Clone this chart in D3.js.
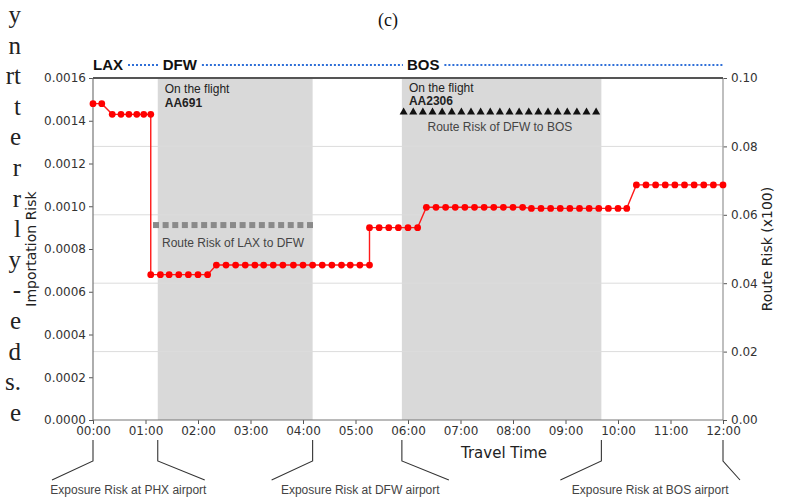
<!DOCTYPE html>
<html>
<head>
<meta charset="utf-8">
<script src="https://cdn.jsdelivr.net/npm/d3@7"></script>
<style>
  body { margin: 0; background: #fff; }
  svg { display: block; }
</style>
</head>
<body>
<svg id="chart" width="790" height="499"></svg>
<script>
// importation risk (left axis), time in minutes after departure
const riskTimes = [
  0, 10, 22, 32, 41, 50, 58, 66,
  66, 77, 87, 98, 109, 120, 131,
  141, 152, 163, 174, 185, 195, 206, 217, 229, 240, 251, 262, 273, 284, 294, 305, 316,
  316, 327, 338, 349, 360, 371,
  381, 392, 403, 414, 425, 436, 447, 458, 469, 480, 491, 501, 512, 523, 534, 545, 556, 567, 578, 589, 600, 610,
  621, 632, 643, 654, 665, 676, 687, 698, 709, 720
];
const riskValues = [
  0.00148, 0.00148, 0.00143, 0.00143, 0.00143, 0.00143, 0.00143, 0.00143,
  0.00068, 0.00068, 0.00068, 0.00068, 0.00068, 0.00068, 0.00068,
  0.000725, 0.000725, 0.000725, 0.000725, 0.000725, 0.000725, 0.000725, 0.000725, 0.000725,
  0.000725, 0.000725, 0.000725, 0.000725, 0.000725, 0.000725, 0.000725, 0.000725,
  0.0009, 0.0009, 0.0009, 0.0009, 0.0009, 0.0009,
  0.000995, 0.000995, 0.000995, 0.000995, 0.000995, 0.000995, 0.000995, 0.000995, 0.000995, 0.000995, 0.000995,
  0.00099, 0.00099, 0.00099, 0.00099, 0.00099, 0.00099, 0.00099, 0.00099, 0.00099, 0.00099, 0.00099,
  0.0011, 0.0011, 0.0011, 0.0011, 0.0011, 0.0011, 0.0011, 0.0011, 0.0011, 0.0011
];

// route risk (right axis, x100)
const laxDfwTimes = [72, 83, 94, 105, 116, 127, 138, 149, 160, 171, 182, 193, 204, 215, 226, 237, 248];
const laxDfwValues = [0.057, 0.057, 0.057, 0.057, 0.057, 0.057, 0.057, 0.057, 0.057,
  0.057, 0.057, 0.057, 0.057, 0.057, 0.057, 0.057, 0.057];
const dfwBosTimes = [355, 366, 377, 388, 399, 410, 421, 432, 443, 454, 465, 476, 487, 498, 509, 520, 531, 542, 553, 564, 575];
const dfwBosValues = [0.09, 0.09, 0.09, 0.09, 0.09, 0.09, 0.09, 0.09, 0.09, 0.09, 0.09,
  0.09, 0.09, 0.09, 0.09, 0.09, 0.09, 0.09, 0.09, 0.09, 0.09];

// flights (shaded) and airport stops
const flightStart = [74, 353];
const flightEnd = [251, 581];
const flightNames = ["AA691", "AA2306"];
const routeLabels = ["Route Risk of LAX to DFW", "Route Risk of DFW to BOS"];
const airportCodes = ["LAX", "DFW", "BOS"];
const airportTimes = [0, 74, 353];
const exposureStart = [0, 251, 581];
const exposureEnd = [74, 353, 720];
const exposureLabels = ["Exposure Risk at PHX airport", "Exposure Risk at DFW airport", "Exposure Risk at BOS airport"];

// ticks
const hourTicks = [0, 60, 120, 180, 240, 300, 360, 420, 480, 540, 600, 660, 720];
const leftTicks = [0, 0.0002, 0.0004, 0.0006, 0.0008, 0.0010, 0.0012, 0.0014, 0.0016];
const rightTicks = [0, 0.02, 0.04, 0.06, 0.08, 0.10];

// cropped text of the paper's column on the left
const sideLetters = ["y", "n", "rt", "t", "e", "r", "r", "l", "y", "-", "e", "d", "s.", "e"];

const svg = d3.select("#chart");
const L = 93, R = 723, T = 78, B = 420;
const tickFont = "DejaVu Sans, sans-serif";
const noteFont = "Liberation Sans, Arial, sans-serif";

const x = d3.scaleLinear().domain([0, 720]).range([L, R]);
const yL = d3.scaleLinear().domain([0, 0.0016]).range([B, T]);
const yR = d3.scaleLinear().domain([0, 0.10]).range([B, T]);

// left paper margin
svg.append("g").selectAll("text")
  .data(sideLetters).join("text")
  .attr("x", 21)
  .attr("y", (d, i) => 23 + i * 30.6)
  .attr("text-anchor", "end")
  .attr("font-family", "Liberation Serif, Times New Roman, serif")
  .attr("font-size", 25)
  .attr("fill", "#222")
  .text(d => d);

svg.append("text")
  .attr("x", 388).attr("y", 26)
  .attr("text-anchor", "middle")
  .attr("font-family", "Liberation Serif, Times New Roman, serif")
  .attr("font-size", 18)
  .attr("fill", "#111")
  .text("(c)");

// flight shading
svg.append("g").selectAll("rect")
  .data(flightStart).join("rect")
  .attr("x", d => x(d))
  .attr("y", T)
  .attr("width", (d, i) => x(flightEnd[i]) - x(d))
  .attr("height", B - T)
  .attr("fill", "#d9d9d9");

// grid from the right axis
svg.append("g").selectAll("line")
  .data(rightTicks.filter(d => d > 0 && d < 0.1)).join("line")
  .attr("x1", L).attr("x2", R)
  .attr("y1", d => yR(d)).attr("y2", d => yR(d))
  .attr("stroke", "#dcdcdc").attr("stroke-width", 1);

// axes
function styleAxis(g) {
  g.select(".domain").remove();
  g.selectAll(".tick line").attr("stroke", "#555");
  g.selectAll(".tick text").attr("font-family", tickFont).attr("font-size", 12).attr("fill", "#333");
}
svg.append("g").attr("transform", `translate(${L},0)`)
  .call(d3.axisLeft(yL).tickValues(leftTicks).tickFormat(d3.format(".4f")).tickSize(4).tickPadding(3))
  .call(styleAxis);
svg.append("g").attr("transform", `translate(${R},0)`)
  .call(d3.axisRight(yR).tickValues(rightTicks).tickFormat(d3.format(".2f")).tickSize(4).tickPadding(4))
  .call(styleAxis);
svg.append("g").attr("transform", `translate(0,${B})`)
  .call(d3.axisBottom(x).tickValues(hourTicks)
    .tickFormat(m => d3.format("02d")(Math.floor(m / 60)) + ":" + d3.format("02d")(m % 60))
    .tickSize(4).tickPadding(2))
  .call(styleAxis);

// spines
svg.append("line").attr("x1", L).attr("x2", L).attr("y1", T).attr("y2", B).attr("stroke", "#777").attr("stroke-width", 1.2);
svg.append("line").attr("x1", R).attr("x2", R).attr("y1", T).attr("y2", B).attr("stroke", "#aaa").attr("stroke-width", 1.5);
svg.append("line").attr("x1", L).attr("x2", R).attr("y1", B).attr("y2", B).attr("stroke", "#777").attr("stroke-width", 1.2);
svg.append("line").attr("x1", L).attr("x2", R).attr("y1", T).attr("y2", T).attr("stroke", "#555").attr("stroke-width", 2);

// axis titles
svg.append("text")
  .attr("transform", `translate(36,${(T + B) / 2}) rotate(-90)`)
  .attr("text-anchor", "middle")
  .attr("font-family", tickFont).attr("font-size", 14).attr("fill", "#222")
  .text("Importation Risk");
svg.append("text")
  .attr("transform", `translate(772,${(T + B) / 2}) rotate(-90)`)
  .attr("text-anchor", "middle")
  .attr("font-family", tickFont).attr("font-size", 14).attr("fill", "#222")
  .text("Route Risk (x100)");
svg.append("text")
  .attr("x", 504).attr("y", 458)
  .attr("text-anchor", "middle")
  .attr("font-family", tickFont).attr("font-size", 15).attr("fill", "#222")
  .text("Travel Time");

// route risk markers
const laxDfw = laxDfwTimes.map((t, i) => ({ t, v: laxDfwValues[i] }));
const dfwBos = dfwBosTimes.map((t, i) => ({ t, v: dfwBosValues[i] }));
svg.append("g").selectAll("rect")
  .data(laxDfw).join("rect")
  .attr("x", d => x(d.t) - 3).attr("y", d => yR(d.v) - 3)
  .attr("width", 6).attr("height", 6)
  .attr("fill", "#8a8a8a");
svg.append("g").selectAll("path")
  .data(dfwBos).join("path")
  .attr("transform", d => `translate(${x(d.t)},${yR(d.v)})`)
  .attr("d", d3.symbol(d3.symbolTriangle, 28))
  .attr("fill", "#111");

// importation risk
const risk = riskTimes.map((t, i) => ({ t, v: riskValues[i] }));
svg.append("path")
  .datum(risk)
  .attr("fill", "none")
  .attr("stroke", "#ff1a1a")
  .attr("stroke-width", 1.4)
  .attr("d", d3.line().x(d => x(d.t)).y(d => yL(d.v)));
svg.append("g").selectAll("circle")
  .data(risk).join("circle")
  .attr("cx", d => x(d.t)).attr("cy", d => yL(d.v))
  .attr("r", 3.4)
  .attr("fill", "#ff0000");

// flight notes
const notes = svg.append("g").attr("font-family", noteFont).attr("fill", "#222");
flightStart.forEach((t, i) => {
  notes.append("text").attr("x", x(t) + 7).attr("y", i ? 92 : 93)
    .attr("font-size", 12).text("On the flight");
  notes.append("text").attr("x", x(t) + 7).attr("y", i ? 105 : 107)
    .attr("font-size", 12).attr("font-weight", "bold").text(flightNames[i]);
});
const routeSets = [laxDfw, dfwBos];
const routeAxis = [22, 19];
routeSets.forEach((s, i) => {
  notes.append("text")
    .attr("x", (x(s[0].t) + x(s[s.length - 1].t)) / 2)
    .attr("y", yR(s[0].v) + routeAxis[i])
    .attr("text-anchor", "middle")
    .attr("font-size", 12).attr("fill", "#444")
    .text(routeLabels[i]);
});

// airport stops over the plot
const stops = svg.append("g");
const stopEnds = [];
airportCodes.forEach((c, i) => {
  const tx = x(airportTimes[i]) + (i ? 5 : 0);
  const t = stops.append("text").attr("x", tx).attr("y", 70)
    .attr("font-family", noteFont).attr("font-size", 15).attr("font-weight", "bold")
    .attr("fill", "#111").text(c);
  stopEnds.push([tx, tx + t.node().getComputedTextLength()]);
});
stopEnds.forEach((s, i) => {
  const x2 = i < stopEnds.length - 1 ? stopEnds[i + 1][0] - 4 : R;
  stops.append("line")
    .attr("x1", s[1] + 5).attr("x2", x2)
    .attr("y1", 65).attr("y2", 65)
    .attr("stroke", "#2f6fd8").attr("stroke-width", 2)
    .attr("stroke-dasharray", "2,2");
});

// exposure brackets under the axis
const brackets = svg.append("g").attr("fill", "none").attr("stroke", "#333").attr("stroke-width", 1.1);
exposureStart.forEach((t, i) => {
  const a = x(t), b = x(exposureEnd[i]);
  const bEnd = Math.min(b + 47, 740);
  brackets.append("path").attr("d", `M${a},440V461L${a - 41},480`);
  brackets.append("path").attr("d", `M${b},440V461L${bEnd},480`);
  svg.append("text")
    .attr("x", (a - 41 + bEnd) / 2).attr("y", 494)
    .attr("text-anchor", "middle")
    .attr("font-family", noteFont).attr("font-size", 12).attr("fill", "#444")
    .text(exposureLabels[i]);
});
</script>
</body>
</html>
